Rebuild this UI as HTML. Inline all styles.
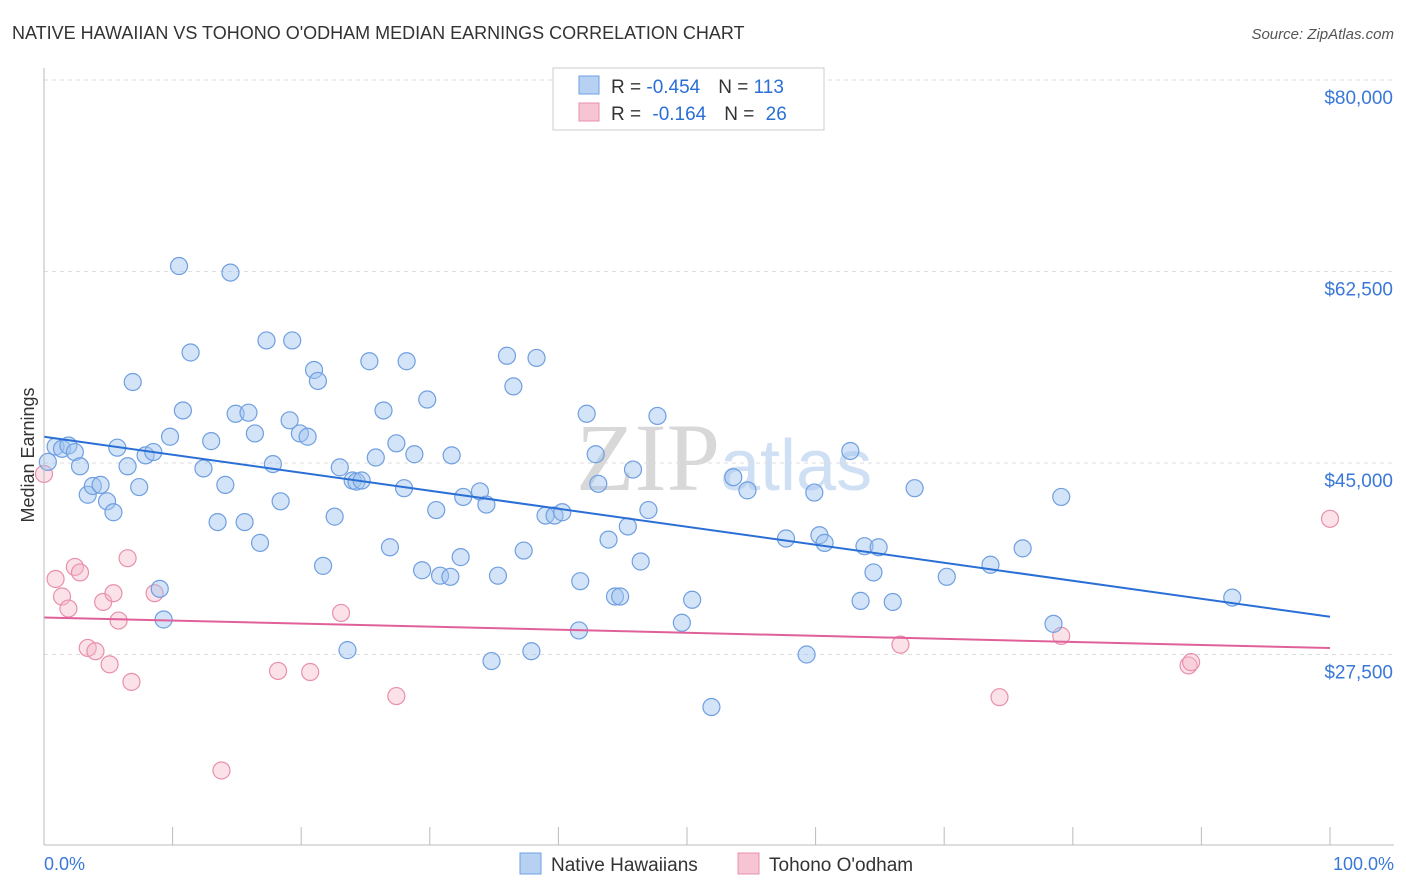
<!DOCTYPE html>
<html><head><meta charset="utf-8">
<style>
body{margin:0;background:#fff;font-family:"Liberation Sans",sans-serif;}
#wrap{position:relative;width:1406px;height:892px;overflow:hidden;}
</style></head>
<body>
<div id="wrap">
<svg id="chart" width="1406" height="892" xmlns="http://www.w3.org/2000/svg">
<text x="12" y="39" font-size="18" fill="#333">NATIVE HAWAIIAN VS TOHONO O'ODHAM MEDIAN EARNINGS CORRELATION CHART</text>
<text x="1394" y="39" font-size="15" fill="#555" font-style="italic" text-anchor="end">Source: ZipAtlas.com</text>
<text x="720" y="490" font-size="96" fill="#d8d8d8" text-anchor="end" font-family="Liberation Serif">ZIP</text>
<text x="720" y="490" font-size="72" fill="#cfe0f5">atlas</text>
<text transform="translate(34,455) rotate(-90)" font-size="18" fill="#333" text-anchor="middle">Median Earnings</text>
<g id="grid"></g><g id="xticks"></g><g id="pts"></g><g id="lines"></g>
<line x1="44" y1="68" x2="44" y2="845" stroke="#bbb"/>
<line x1="44" y1="845" x2="1394" y2="845" stroke="#bbb"/>
<text x="44" y="870" font-size="18" fill="#3a78d8">0.0%</text>
<text x="1394" y="870" font-size="18" fill="#3a78d8" text-anchor="end">100.0%</text>
<g>
<rect x="553" y="68" width="271" height="62" fill="#fff" stroke="#ccc"/>
<rect x="579" y="76" width="20" height="18" fill="#b7d1f3" stroke="#6f9fe0"/>
<rect x="579" y="103" width="20" height="18" fill="#f7c4d3" stroke="#e890ab"/>
<text x="611" y="93" font-size="19" fill="#333">R = <tspan fill="#2a6fd6">-0.454</tspan><tspan dx="18">N = </tspan><tspan fill="#2a6fd6">113</tspan></text>
<text x="611" y="120" font-size="19" fill="#333">R = <tspan dx="6" fill="#2a6fd6">-0.164</tspan><tspan dx="18">N = </tspan><tspan dx="6" fill="#2a6fd6">26</tspan></text>
</g>
<g>
<rect x="520" y="853" width="21" height="21" fill="#b7d1f3" stroke="#6f9fe0"/>
<text x="551" y="871" font-size="19" fill="#333">Native Hawaiians</text>
<rect x="738" y="853" width="21" height="21" fill="#f7c4d3" stroke="#e890ab"/>
<text x="769" y="871" font-size="19" fill="#333">Tohono O'odham</text>
</g>
</svg>
</div>
<script>
const yTicks=[80000,62500,45000,27500];
const yTickLabels=["$80,000","$62,500","$45,000","$27,500"];
const xTickPcts=[0,10,20,30,40,50,60,70,80,90,100];
const blueX=[0.9,1.4,1.9,2.4,2.8,3.4,3.8,4.4,4.9,5.4,5.7,6.5,6.9,7.4,7.9,8.5,9.0,9.3,9.8,10.5,10.8,11.4,12.4,13.0,13.5,14.1,14.5,14.9,15.9,16.4,15.6,16.8,17.3,17.8,18.4,19.1,19.3,19.9,20.5,21.0,21.3,21.7,22.6,23.0,23.6,24.0,24.3,24.7,25.3,25.8,26.4,26.9,27.4,28.0,28.2,28.8,29.4,29.8,30.5,30.8,31.6,31.7,32.4,32.6,33.9,34.4,34.8,35.3,36.0,36.5,37.3,37.9,38.3,39.0,39.7,40.3,41.7,41.6,42.2,42.9,43.1,43.9,44.4,44.8,45.4,45.8,46.4,47.0,47.7,49.6,50.4,51.9,53.6,54.7,57.7,59.3,59.9,60.3,60.7,62.7,63.5,63.8,64.5,64.9,66.0,67.7,70.2,73.6,76.1,78.5,79.1,92.4,0.3];
const blueY=[46.5,46.3,46.6,46.0,44.7,42.1,42.9,43.0,41.5,40.5,46.4,44.7,52.4,42.8,45.7,46.0,33.5,30.7,47.4,63.0,49.8,55.1,44.5,47.0,39.6,43.0,62.4,49.5,49.6,47.7,39.6,37.7,56.2,44.9,41.5,48.9,56.2,47.7,47.4,53.5,52.5,35.6,40.1,44.6,27.9,43.4,43.3,43.4,54.3,45.5,49.8,37.3,46.8,42.7,54.3,45.8,35.2,50.8,40.7,34.7,34.6,45.7,36.4,41.9,42.4,41.2,26.9,34.7,54.8,52.0,37.0,27.8,54.6,40.2,40.2,40.5,34.2,29.7,49.5,45.8,43.1,38.0,32.8,32.8,39.2,44.4,36.0,40.7,49.3,30.4,32.5,22.7,43.7,42.5,38.1,27.5,42.3,38.4,37.7,46.1,32.4,37.4,35.0,37.3,32.3,42.7,34.6,35.7,37.2,30.3,41.9,32.7,45.1];
const pinkX=[0,0.9,1.4,1.9,2.4,2.8,3.4,4.0,4.6,5.1,5.4,5.8,6.5,6.8,8.6,13.8,18.2,20.7,23.1,27.4,66.6,74.3,79.1,89.0,89.2,100];
const pinkY=[44.0,34.4,32.8,31.7,35.5,35.0,28.1,27.8,32.3,26.6,33.1,30.6,36.3,25.0,33.1,16.9,26.0,25.9,31.3,23.7,28.4,23.6,29.2,26.5,26.8,39.9];
const NS="http://www.w3.org/2000/svg";
const X0=44,X1=1330;
function xs(p){return X0+(X1-X0)*p/100;}
function ys(v){return 463-(v-45000)*191.5/17500;}
function mk(t,a,parent){const e=document.createElementNS(NS,t);for(const k in a)e.setAttribute(k,a[k]);parent.appendChild(e);return e;}
const grid=document.getElementById('grid');
yTicks.forEach((v,i)=>{
  const l=mk('line',{x1:44,x2:1394,y1:ys(v),y2:ys(v),stroke:'#ddd','stroke-dasharray':'4,4'},grid);
  
  
  const t=mk('text',{x:1393,y:ys(v)+24,'font-size':19,fill:'#3a78d8','text-anchor':'end'},grid);
  t.textContent=yTickLabels[i];
  
  
});
const xt=document.getElementById('xticks');
xTickPcts.forEach(p=>{
  const l=mk('line',{x1:xs(p),x2:xs(p),y1:827,y2:845,stroke:'#bbb'},xt);
  
  
});
const pts=document.getElementById('pts');
function series(X,Y,fill,stroke,name){
  X.forEach((x,i)=>{
    const c=mk('circle',{cx:xs(x),cy:ys(Y[i]*1000),r:8.5,fill:fill,stroke:stroke,'stroke-width':1.2},pts);
    
    
  });
}
series(pinkX,pinkY,'rgba(244,182,200,0.4)','#e890ab','pink-point');
series(blueX,blueY,'rgba(160,196,240,0.45)','#6f9fe0','blue-point');
function fit(X,Y){const n=X.length;let sx=0,sy=0,sxx=0,sxy=0;for(let i=0;i<n;i++){sx+=X[i];sy+=Y[i];sxx+=X[i]*X[i];sxy+=X[i]*Y[i];}
 const b=(n*sxy-sx*sy)/(n*sxx-sx*sx);return [sy/n-b*sx/n,b];}
const lines=document.getElementById('lines');
[[blueX,blueY,'#2a6fd6','blue-trend-line'],[pinkX,pinkY,'#e0609a','pink-trend-line']].forEach(s=>{
  const [a,b]=fit(s[0],s[1]);
  const l=mk('line',{x1:xs(0),y1:ys(a*1000),x2:xs(100),y2:ys((a+b*100)*1000),stroke:s[2],'stroke-width':2},lines);
  
  
});
</script>
</body></html>
